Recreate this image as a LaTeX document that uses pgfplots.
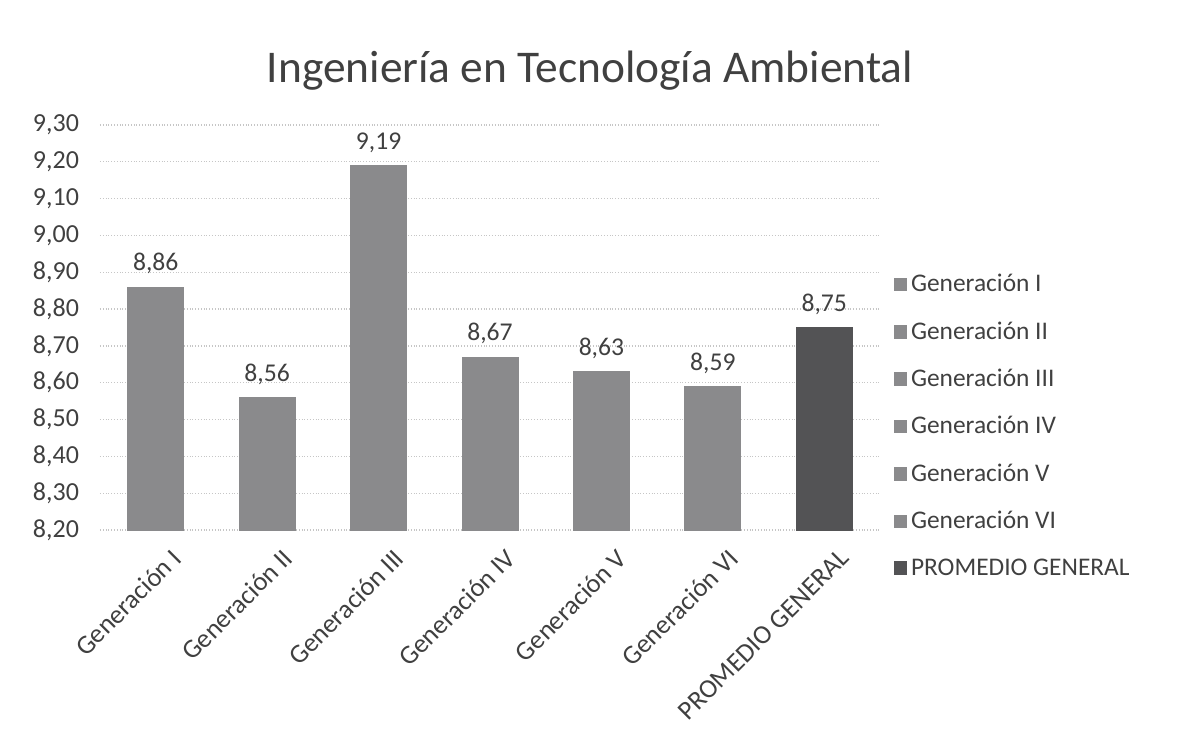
\documentclass[border=0pt]{standalone}
\usepackage{fontspec}
\setmainfont{Carlito}
\usepackage{pgfplots}
\pgfplotsset{compat=1.18}
\definecolor{barg}{HTML}{8A8A8C}
\definecolor{bard}{HTML}{535355}
\definecolor{txt}{HTML}{404040}
\begin{document}
\begin{tikzpicture}
\useasboundingbox (0,0) rectangle (590pt,373pt);
\node[text=txt] at (295pt,337.5pt) {\fontsize{22.7}{25}\selectfont Ingeniería en Tecnología Ambiental};
\begin{axis}[
  at={(50pt,108pt)}, anchor=south west,
  scale only axis, width=390pt, height=202.5pt,
  xmin=-0.5, xmax=6.5, ymin=8.2, ymax=9.3,
  ytick={8.2,8.3,8.4,8.5,8.6,8.7,8.8,8.9,9.0,9.1,9.2,9.3},
  /pgf/number format/use comma, /pgf/number format/fixed, /pgf/number format/precision=2,
  /pgf/number format/fixed zerofill, /pgf/number format/assume math mode=true,
  yticklabel style={font=\fontsize{13}{15}\selectfont, text=txt, xshift=-7pt},
  xtick={0,1,2,3,4,5,6},
  xticklabels={Generación I, Generación II, Generación III, Generación IV, Generación V, Generación VI, PROMEDIO GENERAL},
  x tick label style={rotate=45, anchor=north east, font=\fontsize{13.3}{15}\selectfont, text=txt, inner sep=1pt, yshift=-10pt, xshift=0pt},
  ymajorgrids, grid style={gray!45, densely dotted, line width=0.6pt},
  axis line style={draw=none},
  major tick length=0pt,
  ybar, bar width=28pt, bar shift=0pt,
  nodes near coords,
  every node near coord/.append style={font=\fontsize{12.8}{14}\selectfont, text=txt, yshift=3pt},
  legend style={at={(axis description cs:1.017,0.642)}, anchor=north west, draw=none, fill=none,
    row sep=9.45pt, font=\fontsize{12.7}{13}\selectfont, text=txt, inner sep=0pt, cells={anchor=west}},
  legend image code/.code={\fill[#1] (0.3pt,-3pt) rectangle (6.6pt,3.3pt);},
  clip=false,
]
\addplot[fill=barg, draw=barg] coordinates {(0,8.86)};
\addplot[fill=barg, draw=barg] coordinates {(1,8.56)};
\addplot[fill=barg, draw=barg] coordinates {(2,9.19)};
\addplot[fill=barg, draw=barg] coordinates {(3,8.67)};
\addplot[fill=barg, draw=barg] coordinates {(4,8.63)};
\addplot[fill=barg, draw=barg] coordinates {(5,8.59)};
\addplot[fill=bard, draw=bard] coordinates {(6,8.75)};
\legend{Generación I, Generación II, Generación III, Generación IV, Generación V, Generación VI, PROMEDIO GENERAL}
\end{axis}
\end{tikzpicture}
\end{document}
